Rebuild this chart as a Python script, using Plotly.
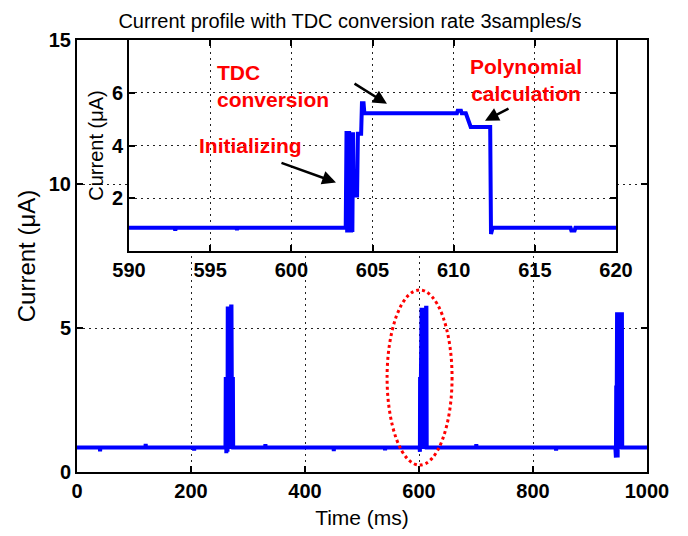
import plotly.graph_objects as go

# ---------------- data ----------------
# main trace: time (ms) and current (uA)
main_time = [0, 40, 40.5, 41, 120, 120.5, 121, 205, 205.5, 206,
             260.5, 261, 262, 263, 264, 264.5, 265.5, 266.5, 267.5, 268.5, 269.5, 270.5, 271, 271.5, 272.5, 273.5, 274,
             330, 330.5, 331, 450, 450.5, 451, 540, 540.5, 541,
             601.0, 601.3, 601.6, 601.9, 602.2, 604.5, 605.5, 606.5, 607.5, 608.5, 609.5, 610.5, 611.5, 612.5, 613, 613.5,
             700, 700.5, 701, 840, 840.5, 841,
             944.5, 945, 945.5, 946, 946.5, 947.5, 948.5, 949.5, 950.5, 951.5, 952.5, 953.5, 954.5, 955.5, 956, 956.5,
             1000]
main_current = [0.85, 0.85, 0.72, 0.85, 0.85, 0.98, 0.85, 0.85, 0.74, 0.85,
                0.85, 3.3, 0.65, 3.3, 0.7, 5.75, 0.8, 5.75, 0.8, 5.75, 0.8, 5.75, 5.75, 3.3, 0.8, 3.3, 0.85,
                0.85, 0.97, 0.85, 0.85, 0.73, 0.85, 0.85, 0.75, 0.85,
                0.85, 3.3, 0.7, 3.3, 0.85, 5.7, 0.8, 5.7, 0.8, 5.7, 0.8, 5.7, 0.8, 5.7, 5.7, 0.85,
                0.85, 0.97, 0.85, 0.85, 0.74, 0.85,
                0.85, 3.0, 0.5, 3.0, 0.5, 5.55, 0.5, 5.55, 0.8, 5.55, 0.8, 5.55, 0.8, 5.55, 5.55, 0.85,
                0.85]

# inset trace (zoom 590-620 ms)
inset_time = [590, 592.8, 592.85, 592.9, 596.6, 596.65, 596.7,
              603.35, 603.4, 603.44, 603.48, 603.52, 603.56, 603.6, 603.64, 603.68, 603.72, 603.76, 603.8,
              603.84, 604.05, 604.1, 604.3,
              604.35, 604.45, 604.5, 610.2, 610.25, 610.45, 610.5, 610.75, 610.85, 610.95, 611.05,
              612.25, 612.3, 612.4, 617.2, 617.25, 617.45, 617.5, 620]
inset_current = [0.88, 0.88, 0.78, 0.88, 0.88, 0.8, 0.88,
                 0.88, 4.55, 0.7, 4.55, 0.72, 4.55, 0.75, 4.5, 0.7, 4.5, 0.72, 4.5,
                 2.1, 2.1, 4.45, 4.45,
                 5.6, 5.6, 5.22, 5.22, 5.32, 5.32, 5.22, 5.22, 5.05, 4.9, 4.7,
                 4.7, 0.65, 0.88, 0.88, 0.78, 0.78, 0.88, 0.88]

main_xticks = [0, 200, 400, 600, 800, 1000]
main_yticks = [0, 5, 10, 15]
inset_xticks = [590, 595, 600, 605, 610, 615, 620]
inset_yticks = [2, 4, 6]

title_text = "Current profile with TDC conversion rate 3samples/s"
x_title = "Time (ms)"
y_title = "Current (μA)"

# ---------------- figure ----------------
FONT = "Liberation Sans, Arial, sans-serif"
BLUE = "#0000FF"
OFF = 8  # page body margin of the html page

fig = go.Figure()
fig.add_trace(go.Scatter(x=main_time, y=main_current, mode="lines",
                         line=dict(color=BLUE, width=4), xaxis="x", yaxis="y",
                         showlegend=False, hoverinfo="skip"))
fig.add_trace(go.Scatter(x=inset_time, y=inset_current, mode="lines",
                         line=dict(color=BLUE, width=4), xaxis="x2", yaxis="y2",
                         showlegend=False, hoverinfo="skip"))

common = dict(showline=True, linecolor="black", linewidth=2, mirror="ticks",
              ticks="inside", ticklen=6, tickwidth=2, tickcolor="black",
              showgrid=True, gridcolor="#222222", griddash="1.5px,4.5px", gridwidth=1.2,
              zeroline=False)


def bold(vals):
    return ["<b>%g</b>" % v for v in vals]


fig.update_layout(
    width=688, height=536,
    margin=dict(l=77 - OFF, r=41 + OFF, t=40 - OFF, b=64 + OFF),
    paper_bgcolor="white", plot_bgcolor="white",
    font=dict(family=FONT, color="black"),
    title=dict(text=title_text, x=(350 - OFF) / 688, xanchor="center", xref="container",
               y=1 - (21 - OFF) / 536, yanchor="middle", yref="container",
               font=dict(family=FONT, size=20, color="black")),
    xaxis=dict(domain=[0, 1], range=[0, 1000], tickvals=main_xticks, ticktext=bold(main_xticks),
               tickfont=dict(size=20),
               title=dict(text=x_title, font=dict(size=21), standoff=9),
               anchor="y", **common),
    yaxis=dict(domain=[0, 1], range=[0, 15], tickvals=main_yticks, ticktext=bold(main_yticks),
               tickfont=dict(size=20),
               title=dict(text=y_title, font=dict(size=24), standoff=6),
               anchor="x", **common),
    xaxis2=dict(domain=[(129 - 77) / 570, (616 - 77) / 570], range=[590, 620],
                tickvals=inset_xticks, ticktext=bold(inset_xticks),
                tickfont=dict(size=20), anchor="y2", **common),
    yaxis2=dict(domain=[(472 - 251) / 432, 1.0], range=[0, 8],
                tickvals=inset_yticks, ticktext=bold(inset_yticks),
                tickfont=dict(size=20),
                title=dict(text=y_title, font=dict(size=20), standoff=3),
                anchor="x2", **common),
)

# red dotted ellipse around the zoomed pulse
fig.add_shape(type="circle", xref="x", yref="y", x0=544, x1=658, y0=0.24, y1=6.32,
              line=dict(color="red", width=3, dash="3px,3px"))

RED = "#FF0000"
fig.add_annotation(xref="x2", yref="y2", x=595.3, y=6.245, text="<b>TDC<br>conversion</b>",
                   showarrow=False, xanchor="left", yanchor="middle", align="left",
                   font=dict(size=21, color=RED, family=FONT))
fig.add_annotation(xref="x2", yref="y2", x=594.2, y=4.0, text="<b>Initializing</b>",
                   showarrow=False, xanchor="left", yanchor="middle",
                   font=dict(size=21, color=RED, family=FONT))
fig.add_annotation(xref="x2", yref="y2", x=614.46, y=6.49, text="<b>Polynomial<br>calculation</b>",
                   showarrow=False, xanchor="center", yanchor="middle", align="center",
                   font=dict(size=21, color=RED, family=FONT))

arrows = [((602.75, 2.60), (599.30, 3.36)),
          ((605.89, 5.58), (603.80, 6.38)),
          ((611.93, 4.94), (613.47, 5.43))]
for (hx, hy), (tx, ty) in arrows:
    fig.add_annotation(xref="x2", yref="y2", x=hx, y=hy, ax=tx, ay=ty,
                       axref="x2", ayref="y2", text="", showarrow=True,
                       arrowhead=2, arrowsize=1.1, arrowwidth=2.5, arrowcolor="black")

fig.write_html("out.html")
